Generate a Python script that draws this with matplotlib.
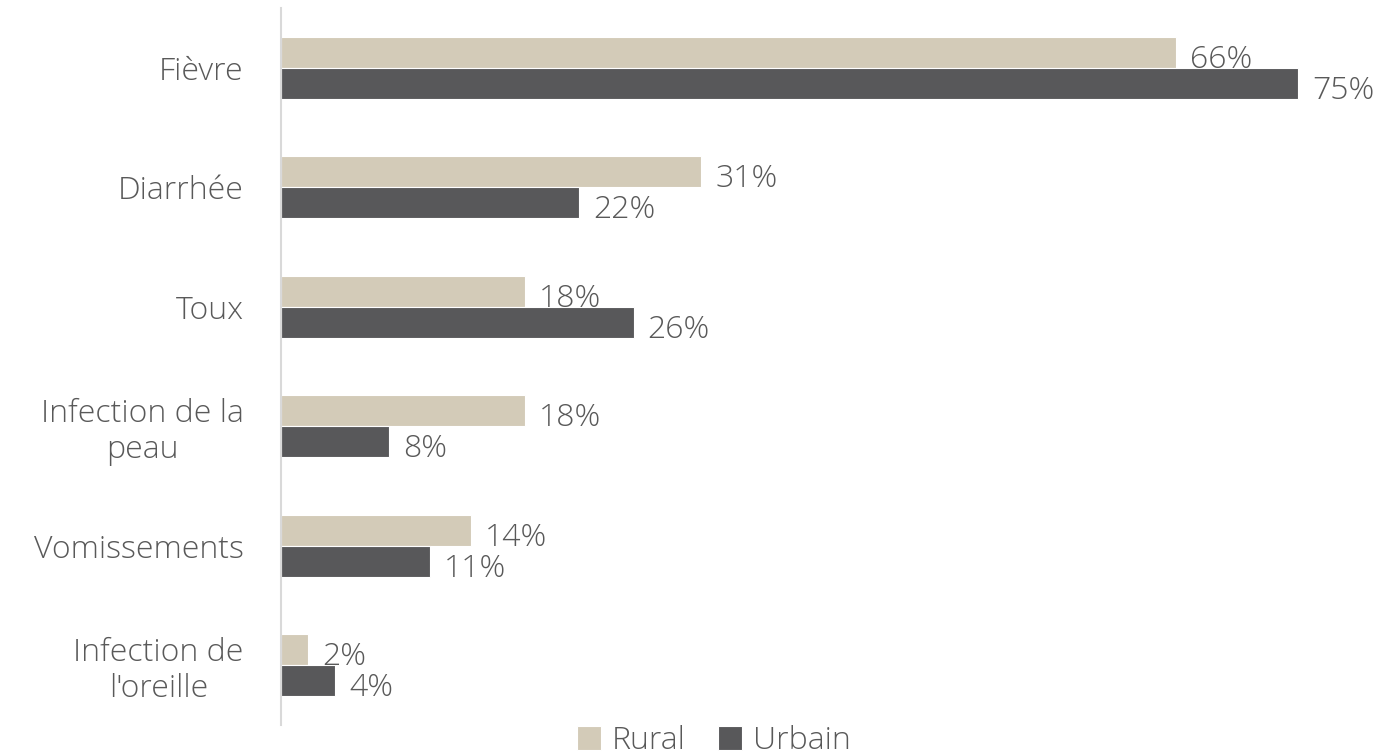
import matplotlib.pyplot as plt
import numpy as np

categories = ["Fièvre", "Diarrhée", "Toux", "Infection de la\npeau", "Vomissements",
              "Infection de\nl'oreille"]
rural = [66, 31, 18, 18, 14, 2]
urbain = [75, 22, 26, 8, 11, 4]
series_names = ["Rural", "Urbain"]

colors = ["#d3cbb8", "#58585a"]
text_color = "#595959"

plt.rcParams["font.family"] = ["Open Sans", "DejaVu Sans"]
plt.rcParams["font.weight"] = "light"

fig = plt.figure(figsize=(13.86, 7.55), dpi=100)
ax = fig.add_axes([281 / 1386, 30 / 755, 1 - 281 / 1386, 717 / 755])

y = np.arange(len(categories))
height = 0.26
for vals, offset, color, name in zip([rural, urbain], [-height / 2, height / 2], colors, series_names):
    bars = ax.barh(y + offset, vals, height=height, color=color, edgecolor="white",
                   linewidth=0.8, label=name)
    for rect, v in zip(bars, vals):
        ax.annotate(f"{v}%", (rect.get_width(), rect.get_y() + rect.get_height() / 2),
                    xytext=(10, -5.5), textcoords="offset points", ha="left", va="center",
                    fontsize=23, color=text_color, fontweight="light")

ax.set_ylim(len(categories) - 0.5, -0.5)
ax.set_xlim(0, 81.5)
ax.set_yticks(y)
ax.set_yticklabels(categories, fontsize=23, color=text_color, multialignment="center",
                   fontweight="light", linespacing=1.15)
ax.tick_params(axis="y", length=0, pad=27)
ax.set_xticks([])
for side in ["top", "right", "bottom"]:
    ax.spines[side].set_visible(False)
ax.spines["left"].set_color("#d9d9d9")
ax.spines["left"].set_linewidth(1.5)

fig.legend(loc="center", bbox_to_anchor=(714 / 1386, 1 - 741 / 755), ncol=2, frameon=False,
           fontsize=23, labelcolor=text_color, handlelength=0.75, handleheight=0.75,
           handletextpad=0.35, columnspacing=1.0, borderpad=0)

fig.savefig("out.png", dpi=100)
